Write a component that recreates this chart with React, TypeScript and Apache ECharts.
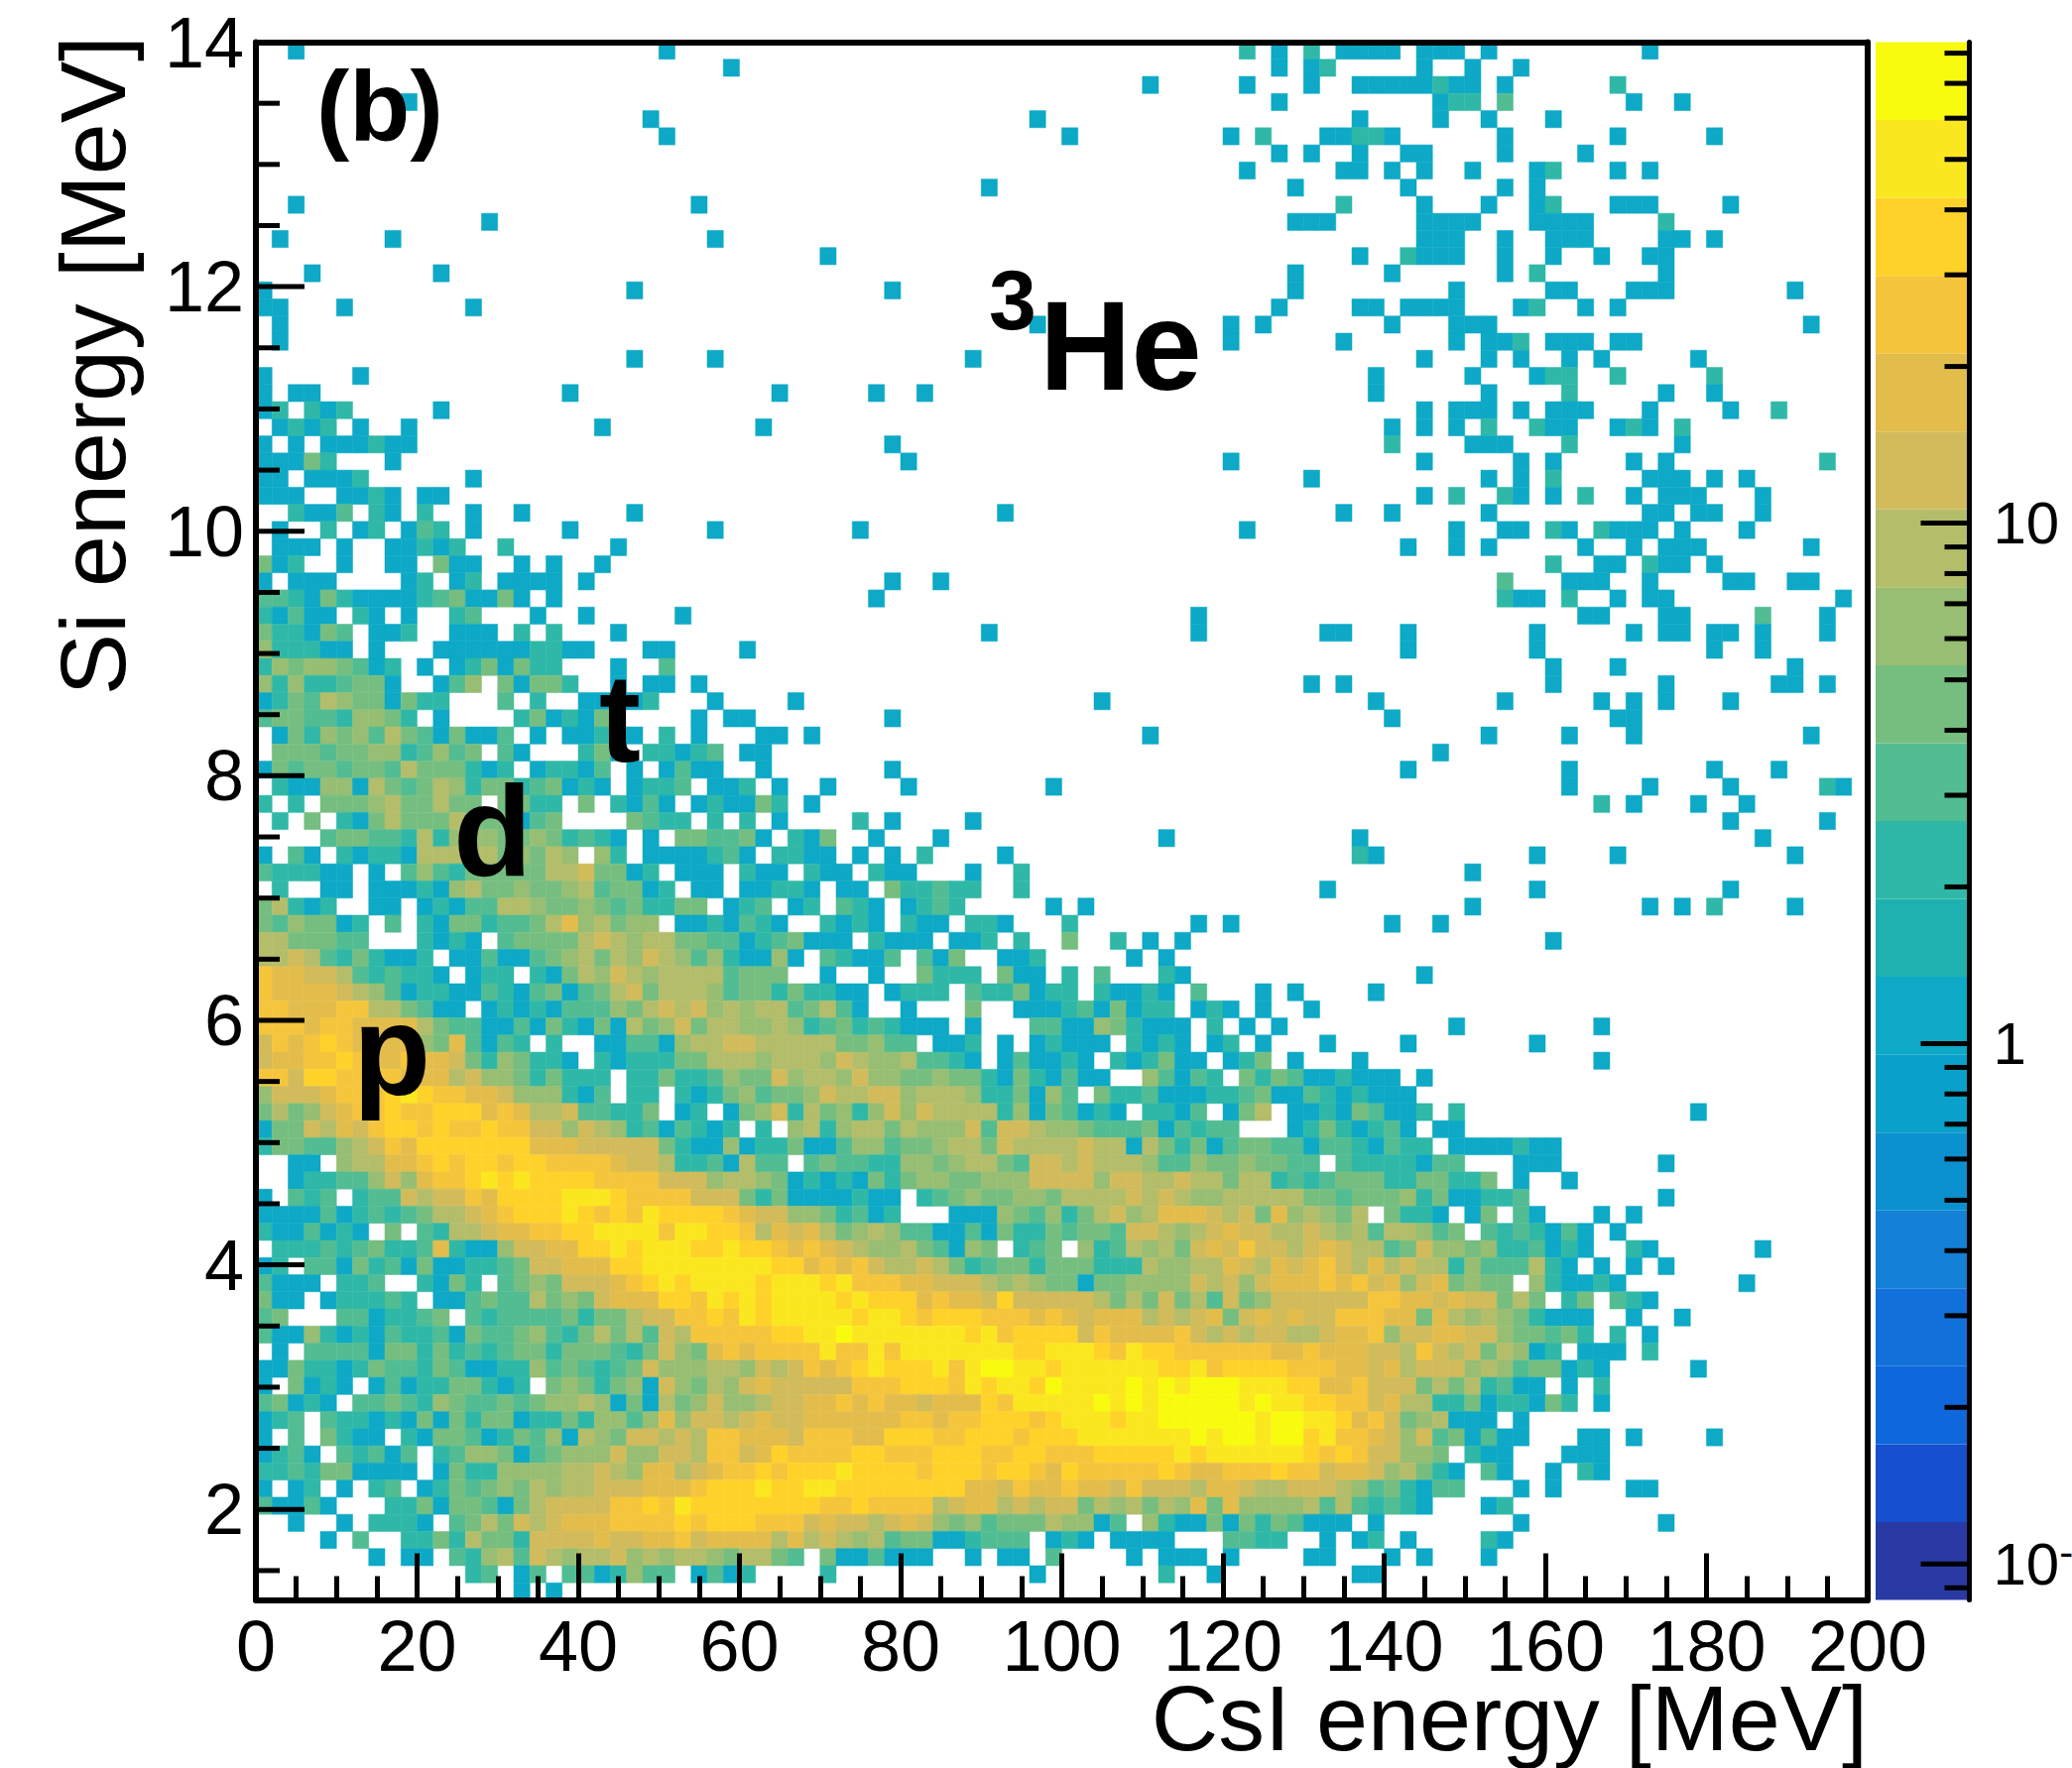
import React, { useEffect, useRef } from "react";
import * as echarts from "echarts";

const FONT = "Liberation Sans";

// Histogram binning: 100 bins over each axis range; the y axis shows 91 of them.
const binWidth = 2;
const binHeight = 0.14;
const yTop = 14;
const yBottom = 1.26;
const xMax = 200;
const zMin = 0.0853;
const zMax = 84;

// Character of a cell -> estimated count in that bin.
const levelCounts: Record<string, number> = {
  "1": 1, "2": 2, "3": 3, "4": 4, "5": 6, "6": 9, "7": 12, "8": 17, "9": 24, a: 35, b: 50, c: 70,
};

const bandColors = [
  "#2A3AA5", "#1650CE", "#0F67DC", "#1270DA", "#1480D6", "#0A90CF", "#09A0CB", "#0DA9C6", "#1EB1B0", "#2FB8A7",
  "#52BC93", "#76BE80", "#97BE72", "#B3BD6A", "#D1BB5B", "#E3BD4C", "#F5C53C", "#FFD22A", "#FBE71F", "#F9FB0E",
];

// Each row (top to bottom) holds "firstColumn:levels" runs; "." is an empty bin.
const rowsUpper = [
  "2:1 25:1 61:2 63:1 65:2 67:1111 72:111 76:1 86:1",
  "29:1 63:1 65:1 66:2 72:1 75:1 78:1",
  "55:1 61:1 65:1 68:11111 73:2 74:11 77:1 84:2",
  "9:1 63:1 73:1 74:22 77:3 85:1 88:1",
  "24:1 48:1 68:1 73:1 76:1 80:1",
  "25:1 50:1 60:1 62:2 66:11 68:22 70:1 77:1 84:1 90:1",
  "63:1 65:1 68:1 71:11 77:1 82:1",
  "61:1 67:11 70:1 72:1 75:1 79:1 80:2 84:1 86:1",
  "45:1 64:1 71:1 77:1 79:1",
  "2:1 27:1 67:2 72:1 76:1 79:1 80:2 84:111 91:1",
  "14:1 64:111 72:1111 79:1111 87:2",
  "1:1 8:1 28:1 72:111 77:1 80:111 87:11 90:1",
  "35:1 68:1 71:2 72:111 77:1 80:1 83:1 86:11",
  "3:1 11:1 64:1 70:1 77:1 79:2 87:1",
  "0:1 23:1 39:1 64:1 74:1 80:11 85:111 95:1",
  "0:11 5:1 13:1 63:1 68:11 71:1111 78:1 79:2 82:1 84:1",
  "1:1 48:1 60:1 62:1 70:1 74:111 96:1",
  "1:1 60:1 67:1 74:1 76:11 78:2 80:111 84:11",
  "23:1 28:1 44:1 72:1 76:1 78:1 81:1 83:1 89:1",
  "0:1 6:1 69:1 75:1 79:1 80:22 84:2 90:2",
  "0:1 2:11 19:1 32:1 38:1 41:1 69:1 76:1 81:2 87:1 90:1",
  "0:12.212 11:1 72:1 74:111 78:1 80:111 86:1 91:1 94:2",
  "1:1212 6:1 9:1 21:1 31:1 70:1 72:1 74:1 76:2 79:2 80:11 84:1 85:2 86:1 88:2",
  "0:1.1.111211 39:1 70:2 75:111 81:2 88:1",
  "0:11142...1 40:1 60:1 72:1 78:1 80:1 85:1 87:1 97:2",
  "0:11.1112 13:1 65:1 76:1 78:1 80:2 86:111 90:1 92:1",
  "0:111..1121.11 72:1 74:2 77:2 78:1 80:1 82:2 85:1 87:111 93:1",
  "0:..2113.21.2 13:1 16:1 23:1 46:1 67:1 70:1 76:1 86:11 89:11 93:1",
  "0:.1..2.12.132 13:1 19:1 28:1 37:1 61:1 74:1 77:11 80:21 83:2 84:111 88:1 92:1",
  "0:.111.1..11212 15:2 22:1 71:1 74:1 76:1 82:1 85:1 87:111 96:1",
  "0:412..1..11.411 16:1 18:1 21:1 80:2 83:11 86:2 87:11 90:1",
  "0:1.111....12.12 15:1111 20:1 39:1 42:1 77:3 81:111 86:1 91:11 95:11",
  "0:33214211112341141.1 38:1 77:2 78:11 81:2 84:1 86:11 98:1",
  "0:21311.21.1 12:23 17:1 20:1 26:1 58:1 82:11 87:11 93:3 97:1",
  "0:422143.112 12:111 16:2.2 22:1 45:1 58:1 66:11 71:1 79:1 85:1 87:11 90:11 93:1 97:1",
  "0:522211.1 11:11111122 19:11 24:11 30:1 71:1 79:1 90:1 93:1",
  "0:254554312.1.1241422 22:1 25:3 80:1 84:1 95:1",
  "0:525223441..135.41442 22:1 24:11 27:1 65:1 67:1 80:1 87:1 94:11 97:1",
  "0:124365441422 15:3.2 20:1111 24:2 28:1 33:1 52:1 69:1 77:1 83:1 85:1 87:1 91:1",
  "0:3443325542.1 16:241214 27:1 29:11 39:1 70:1 84:11",
  "0:.142545364314113.1.11211.2.1...11.1 55:1 76:1 81:1 85:1 96:1",
  "0:.4443445523534.31...241.22123.11 73:1",
  "0:1434434436444212.12213.1.1311..1 39:1 71:1 81:1 90:1 94:1",
  "0:.2115516434652442341" + "21.1223.112.1 35:1 40:1 49:1 81:1 86:1 91:1 97:21",
];

const rowsMiddle = [
  "0:2.2.444564" + "4644.4422." + "4.2131.121" + "142.1. 83:2 85:1 89:1 92:1",
  "0:.2.4.21464" + "446444134." + "...4322.2." + "2.1 37:2 39:1 44:1 91:1 97:1",
  "0:....344332" + "6255544542" + "321.1.4433" + "41.214 38:1 42:1 56:1 68:1 93:1",
  "0:1.31.21221" + "6666645465" + ".52.111123" + "1.2211 37:1 39:1 41:2 46:1 68:21 79:1 84:1 95:1",
  "0:322211.1.3" + "5324444466" + "74412.111." + "211.211 38:211 44:1 47:2 75:1",
  "0:.2..11.111" + "2156445445" + "634412.11." + "11221.11.4" + "22322 47:2 66:1 79:1 91:1",
  "0:46212..11." + "1213366544" + "54342244.1" + "23.12.321." + "1232 49:1 51:1 75:1 86:1 88:1 90:2 95:1",
  "0:4354412.3." + "2144233468" + "56455.1121" + "321..2121." + "211.221 50:2 58:1 60:1 70:1 73:1",
  "0:6644433..." + "2121.34444" + "6765664433" + "1234111.21" + "11.112.2 50:4 53:2 55:1 57:1 80:1",
  "0:6676324211" + "2.11311345" + "6465765352" + "1151.32113" + ".314..112 54:1 56:1",
  "0:9887763232" + "21.122.214" + "6576566663" + "444..1..1." + ".4222.411." + "2.3 56:21 72:1",
  "0:9888876531" + "2211321341" + "3467466653" + "44242211.1" + "222.322412" + "2.21121.3 62:1 64:1 69:1",
  "0:9988899664" + "311.121213" + "3354676756" + "56634631.." + "1...4..111" + "2314122.12" + "1.1 65:1",
  "0:9998998888" + "6433113142" + "1416457466" + "5565234232" + "111.1...33" + "11542111.2" + ".1.1 74:1 83:1",
  "0:7989a98888" + "5483132.2." + ".113315667" + "7666664453" + "3.112.1.12" + "111.2121.1" + "2.1 66:1 71:1 79:1",
  "0:78899a9889" + "8874254221" + ".212224466" + "6566657655" + "63321.1311" + "21.212411." + "124.1 68:1 83:1",
  "0:997aa99998" + "8867554242" + "22.2242235" + "4475665755" + "4454421421" + "311..53132" + ".424311211" + "1.1",
  "0:57778999ab" + "a998875552" + "13.22.2124" + "5344576677" + "5666522415" + "3.42231112" + "2341132121" + "11",
  "0:46457899a9" + "9aaa898667" + "33224.12.1" + "4572645257" + "5766662514" + "3121.2213." + "146.112143" + "112.2 89:1",
  "0:14476879aa" + "9a99a99775" + "7652313212" + ".2.5625664" + "6555737765" + "5433341323" + "3...124212" + "31.11",
  "0:2443356798" + "aaaaaaa888" + "7777742115" + "1224113553" + "4456647666" + "6766164241" + "3443313321" + "322.111121" + "1",
  "0:..11.56688" + "9a9aa9aa99" + "9987762231" + "633.343322" + "5545664377" + "6766653354" + "454433.322" + "22133...11" + "1 87:1",
  "0:..12233575" + "899ababaaa" + "a999977756" + "6541212142" + "4554455577" + "7757766766" + "4662323444" + "2244224.1." + ".1",
];

const rowsLower = [
  "0:1.323.2337" + "67798aaaab" + "bba9999777" + "4241111211" + ".234544554" + "6666767655" + "6666644344" + "452411223 87:1",
  "0:1111312323" + "466789aaab" + "a9a9baaaa9" + "8775542312" + "...1115435" + "2467568887" + "674856546." + "4221.14.31 83:1 85:1",
  "0:2113121.4." + "326678899a" + "abbbb9bbaa" + "9687864565" + "3311314224" + "3443776567" + "8776676563" + "66534.3232" + "131.1",
  "0:.222323422" + "3821157788" + "aababbbaab" + "aa98987655" + "643154.234" + ".523656478" + "7977678766" + "3475545223" + "121..21 93:1",
  "0:12.3314231" + "4112234778" + "88aabbbbbb" + "bbaa898976" + "6764234424" + "4422265566" + "8768789768" + "6766253336" + "21.1.1.1",
  "0:3111.223.." + "2142.34547" + "7789ababbb" + "babbbab999" + "8877765654" + "4144555576" + "7578889897" + "85784544.5" + "21121 92:1",
  "0:411.122232" + ".113433645" + "47888aa9ba" + "babbbbabaa" + "a89887a777" + "7764647463" + "7457777779" + "9887877464" + ".24.321",
  "0:34...33122" + "34.3233334" + "24467799a9" + "babbbbbabb" + "a9aaa99989" + "8788867678" + "4787877999" + "8848656542" + "111 85:1 88:1",
  "0:3115212132" + "2314334532" + "4646376999" + "99aabbcbbb" + "bbbbab9aaa" + "a798888976" + "7677667889" + "5778877544" + "342.2.1",
  "0:.1.3333144" + "2423234424" + "4432475489" + "89999b99b9" + "bbbbbbbaab" + "bba9baa999" + "9998898887" + "7697674651" + "2.111.2",
  "0:1142212433" + "2431122534" + "3234755566" + "5767989aba" + "aab9bccbba" + "bbbbbbaab9" + "aaaa999887" + "8677756534" + "4121 89:1",
  "0:1.4121.131" + "2244212.45" + "4245175465" + "7877777999" + "aaa9babbac" + "bbbbcbcbcc" + "cbbbaa8897" + "7746462311" + ".1.2",
  "0:34121.3343" + "2543343455" + "6514164575" + "5677889898" + "87888a9bbb" + "bbcbcbcccc" + "cbcbbaa997" + "8662241221" + "42.1",
  "0:123.322121" + "4142441224" + "2553585776" + "7877888888" + "99899aaa9a" + "bbbabbcccc" + "ccbccbba89" + "7456111.1",
  "0:1.3.4211.2" + "1443124351" + "6547767699" + "888799988a" + "aa99aaa9aa" + "abbbbbbbcb" + "ccbccab998" + "757341311 82:11 85:1 90:1",
  "0:1231.32313" + ".235541345" + "5575577699" + "78a9999aa9" + "99aaa99aa9" + "99aaaaabab" + "bbbbba9a97" + "7554.211 81:111",
  "0:2232441111" + ".142255556" + "6765886789" + "9a9aaabaaa" + "a9aaa9aa98" + "a99999a988" + "999a997887" + "56421.31 80:1 82:21",
  "0:1.12.1.23." + "1243454656" + "67778889aa" + "abaabbaaaa" + "aaaa887988" + "9887977768" + "8766777653" + "42133 78:1 80:1 85:11",
  "0:31131...22" + "4144314677" + "7799a9baaa" + "aaaaa99a99" + "9967886767" + "7465646584" + "8555563632" + "321 76:12",
  "0:..1..1.222" + "1.34647678" + "889999a9aa" + "a999787767" + "8754534446" + "5513.52114" + "14243111.1 78:1 87:1",
  "4:1.3..22426" + "4427777877" + "8897888868" + "6765634411" + "2333.121.1" + "111...3322" + "..1.12.1 76:21",
  "7:1 9:11 12:3256376566" + "7565665466" + "43.4113111" + "..1.11.3 54:1 56:111 60:1 65:11 70:1 72:1 76:1",
  "13:23.13.3312" + "533.1312 35:2 48:1 56:2 59:1 68:11",
  "16:1 18:1",
];

const xTickValues = [0, 20, 40, 60, 80, 100, 120, 140, 160, 180, 200];
const yMajorTicks = [2, 4, 6, 8, 10, 12];
const yMinorTicks = [1.5, 2.5, 3, 3.5, 4.5, 5, 5.5, 6.5, 7, 7.5, 8.5, 9, 9.5, 10.5, 11, 11.5, 12.5, 13, 13.5];
const zMajorTicks = [0.1, 1, 10];
const zMinorTicks = [
  0.09, 0.2, 0.3, 0.4, 0.5, 0.6, 0.7, 0.8, 0.9, 2, 3, 4, 5, 6, 7, 8, 9, 20, 30, 40, 50, 60, 70, 80,
];

const plot = { left: 258, top: 42.5, width: 1625, height: 1571 };
const bar = { left: 1891, top: 42.5, width: 94.5, height: 1571 };

function buildCells(): number[][] {
  const out: number[][] = [];
  [...rowsUpper, ...rowsMiddle, ...rowsLower].forEach((row, r) => {
    row.split(" ").forEach((run) => {
      const [start, chars] = run.split(":");
      for (let i = 0; i < chars.length; i++) {
        const count = levelCounts[chars[i]];
        if (count) out.push([(Number(start) + i) * binWidth, yTop - (r + 1) * binHeight, count]);
      }
    });
  });
  return out;
}

function bandOf(v: number): number {
  const t = (Math.log10(v) - Math.log10(zMin)) / (Math.log10(zMax) - Math.log10(zMin));
  return Math.max(0, Math.min(bandColors.length - 1, Math.floor(t * bandColors.length)));
}

export default function App() {
  const ref = useRef<HTMLDivElement>(null);
  useEffect(() => {
    const chart = echarts.init(ref.current!, undefined, { renderer: "svg" });
    const black = "#000";
    const hiddenAxis = {
      axisLabel: { show: false },
      axisTick: { show: false },
      splitLine: { show: false },
    };
    chart.setOption({
      animation: false,
      backgroundColor: "#fff",
      grid: [
        { ...plot, containLabel: false, outerBoundsMode: "none" },
        { ...bar, containLabel: false, outerBoundsMode: "none" },
      ],
      xAxis: [
        {
          type: "value",
          gridIndex: 0,
          min: 0,
          max: xMax,
          interval: 20,
          z: 5,
          axisLine: { show: true, lineStyle: { color: black, width: 6 } },
          axisTick: { show: true, inside: true, length: 47, lineStyle: { color: black, width: 5 } },
          minorTick: { show: true, splitNumber: 4, length: 24, lineStyle: { color: black, width: 5 } },
          minorSplitLine: { show: false },
          splitLine: { show: false },
          axisLabel: {
            show: true,
            margin: 10,
            color: black,
            fontFamily: FONT,
            fontSize: 72,
            formatter: (v: number) => (xTickValues.includes(v) ? String(v) : ""),
          },
        },
        {
          type: "value",
          gridIndex: 0,
          position: "top",
          min: 0,
          max: xMax,
          z: 5,
          axisLine: { show: true, onZero: false, lineStyle: { color: black, width: 6 } },
          ...hiddenAxis,
        },
        { type: "value", gridIndex: 1, min: 0, max: 1, show: false },
      ],
      yAxis: [
        {
          type: "value",
          gridIndex: 0,
          min: yBottom,
          max: yTop,
          splitNumber: 6,
          z: 5,
          axisLine: { show: true, onZero: false, lineStyle: { color: black, width: 6 } },
          axisTick: { show: false },
          splitLine: { show: false },
          axisLabel: {
            show: true,
            margin: 12,
            color: black,
            fontFamily: FONT,
            fontSize: 72,
            showMinLabel: false,
            formatter: (v: number) => (Number.isInteger(v) ? String(v) : ""),
          },
        },
        {
          type: "value",
          gridIndex: 0,
          position: "right",
          min: yBottom,
          max: yTop,
          z: 5,
          axisLine: { show: true, onZero: false, lineStyle: { color: black, width: 6 } },
          ...hiddenAxis,
        },
        {
          type: "log",
          logBase: 10,
          gridIndex: 1,
          position: "right",
          min: zMin,
          max: zMax,
          z: 5,
          axisLine: { show: true, onZero: false, lineStyle: { color: black, width: 5 } },
          axisTick: { show: false },
          splitLine: { show: false },
          axisLabel: {
            show: true,
            margin: 24,
            color: black,
            fontFamily: FONT,
            fontSize: 60,
            showMinLabel: false,
            showMaxLabel: false,
            formatter: (v: number) => {
              if (Math.abs(v - 10) < 1e-6) return "10";
              if (Math.abs(v - 1) < 1e-6) return "1";
              if (Math.abs(v - 0.1) < 1e-6) return "{b|10}{s|-1}";
              return "";
            },
            rich: {
              b: { fontFamily: FONT, fontSize: 60, color: black },
              s: { fontFamily: FONT, fontSize: 42, color: black, verticalAlign: "top", padding: [0, 0, 24, 0] },
            },
          },
        },
      ],
      series: [
        {
          type: "custom",
          name: "counts",
          xAxisIndex: 0,
          yAxisIndex: 0,
          z: 2,
          silent: true,
          clip: false,
          progressive: 0,
          encode: { x: 0, y: 1 },
          data: buildCells(),
          renderItem: (_p: any, api: any) => {
            const x = api.value(0);
            const y = api.value(1);
            const a = api.coord([x, y + binHeight]);
            const b = api.coord([x + binWidth, y]);
            const color = bandColors[bandOf(api.value(2))];
            return {
              type: "rect",
              shape: { x: a[0], y: a[1], width: b[0] - a[0], height: b[1] - a[1] },
              style: { fill: color, stroke: color, lineWidth: 0.5 },
            };
          },
        },
        {
          type: "custom",
          name: "yTicks",
          xAxisIndex: 0,
          yAxisIndex: 0,
          z: 6,
          silent: true,
          clip: false,
          encode: { y: 0 },
          data: [...yMajorTicks.map((v) => [v, 49]), ...yMinorTicks.map((v) => [v, 24])],
          renderItem: (_p: any, api: any) => {
            const p = api.coord([0, api.value(0)]);
            return {
              type: "line",
              shape: { x1: p[0], y1: p[1], x2: p[0] + api.value(1), y2: p[1] },
              style: { stroke: black, lineWidth: 5 },
            };
          },
        },
        {
          type: "custom",
          name: "colorBands",
          xAxisIndex: 2,
          yAxisIndex: 2,
          z: 2,
          silent: true,
          clip: false,
          data: bandColors.map((_c, i) => [i]),
          renderItem: (_p: any, api: any) => {
            const i = api.value(0);
            const lo = Math.log10(zMin);
            const step = (Math.log10(zMax) - lo) / bandColors.length;
            const a = api.coord([0, Math.pow(10, lo + (i + 1) * step)]);
            const b = api.coord([1, Math.pow(10, lo + i * step)]);
            return {
              type: "rect",
              shape: { x: a[0], y: a[1], width: b[0] - a[0], height: b[1] - a[1] },
              style: { fill: bandColors[i] },
            };
          },
        },
        {
          type: "custom",
          name: "zTicks",
          xAxisIndex: 2,
          yAxisIndex: 2,
          z: 6,
          silent: true,
          clip: false,
          data: [...zMajorTicks.map((v) => [v, 49]), ...zMinorTicks.map((v) => [v, 25])],
          renderItem: (_p: any, api: any) => {
            const p = api.coord([1, api.value(0)]);
            return {
              type: "line",
              shape: { x1: p[0], y1: p[1], x2: p[0] - api.value(1), y2: p[1] },
              style: { stroke: black, lineWidth: 5 },
            };
          },
        },
      ],
      graphic: [
        {
          type: "text",
          z: 10,
          style: {
            x: 1883, y: 1732, text: "CsI energy [MeV]", fill: black,
            font: `93.5px "${FONT}"`, textAlign: "right", textVerticalAlign: "middle",
          },
        },
        {
          type: "text",
          z: 10,
          x: 93,
          y: 36,
          rotation: Math.PI / 2,
          style: {
            x: 0, y: 0, text: "Si energy [MeV]", fill: black,
            font: `93.5px "${FONT}"`, textAlign: "right", textVerticalAlign: "middle",
          },
        },
        {
          type: "text", z: 10,
          style: { x: 319, y: 107, text: "(b)", fill: black, font: `bold 100px "${FONT}"`, textVerticalAlign: "middle" },
        },
        {
          type: "text", z: 10,
          style: { x: 604, y: 724, text: "t", fill: black, font: `bold 126px "${FONT}"`, textVerticalAlign: "middle" },
        },
        {
          type: "text", z: 10,
          style: { x: 457, y: 838, text: "d", fill: black, font: `bold 130px "${FONT}"`, textVerticalAlign: "middle" },
        },
        {
          type: "text", z: 10,
          style: { x: 356, y: 1058, text: "p", fill: black, font: `bold 128px "${FONT}"`, textVerticalAlign: "middle" },
        },
        {
          type: "text", z: 10,
          style: { x: 1048, y: 348, text: "He", fill: black, font: `bold 128px "${FONT}"`, textVerticalAlign: "middle" },
        },
        {
          type: "text", z: 10,
          style: { x: 997, y: 302, text: "3", fill: black, font: `bold 86px "${FONT}"`, textVerticalAlign: "middle" },
        },
      ],
    });
    return () => chart.dispose();
  }, []);
  return (
    <div
      ref={ref}
      style={{ position: "absolute", left: 0, top: 0, width: 2089, height: 1783, overflow: "hidden", background: "#fff" }}
    />
  );
}
